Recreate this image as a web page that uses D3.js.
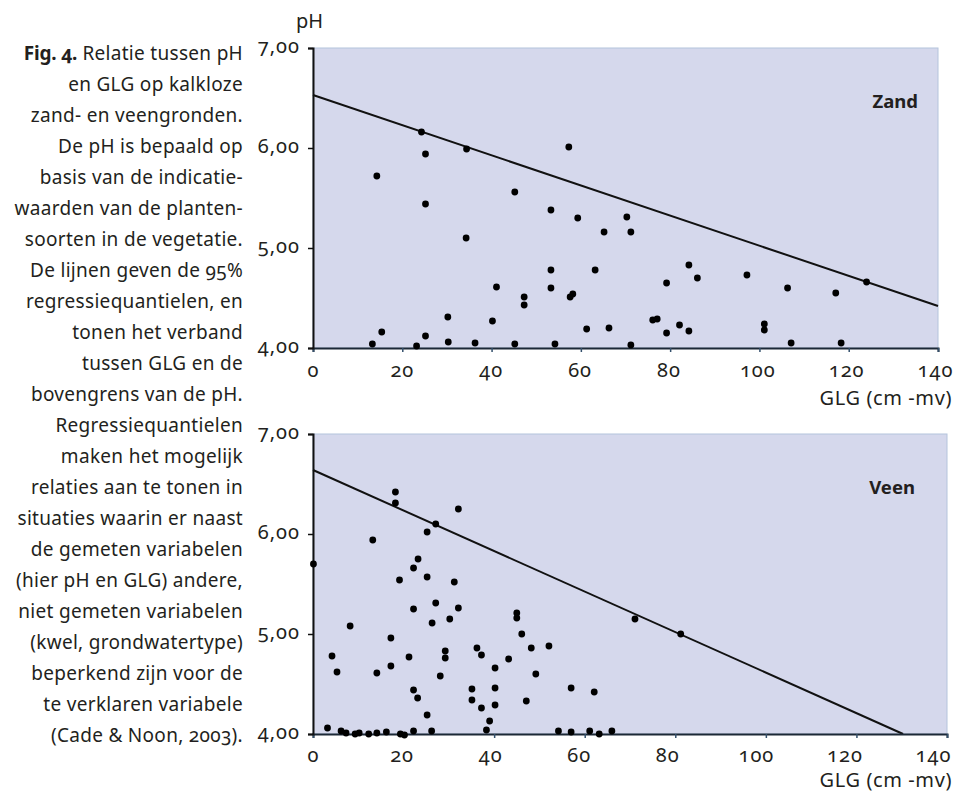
<!DOCTYPE html>
<html>
<head>
<meta charset="utf-8">
<script src="https://cdn.jsdelivr.net/npm/d3@7"></script>
<style>
body { margin: 0; background: #fff; }
svg { display: block; font-family: "Noto Sans", sans-serif; }
.num { font-feature-settings: "onum" 1; font-variant-numeric: oldstyle-nums; }
</style>
</head>
<body>
<svg id="chart" width="956" height="792"></svg>
<script>
// Zand (sand soils): GLG (cm -mv) and pH
let zandGLG = [14.3, 25.2, 24.3, 34.4, 57.3, 25.2, 45.2, 53.3, 59.3, 34.3,
    13.3, 15.4, 23.2, 25.2, 30.3, 30.2, 36.3, 40.2, 41.1, 45.2,
    47.3, 47.3, 53.3, 53.3, 54.2, 57.6, 58.2, 61.3, 63.2, 70.3,
    65.2, 71.2, 66.3, 71.2, 76.1, 77.1, 79.2, 79.2, 82.1, 84.2,
    84.2, 86.1, 97.2, 101.1, 101.1, 106.3, 107.1, 117.1, 118.3, 124.0];
let zandPH = [5.72, 5.94, 6.16, 5.99, 6.01, 5.44, 5.56, 5.38, 5.30, 5.10,
    4.04, 4.16, 4.02, 4.12, 4.06, 4.31, 4.05, 4.27, 4.61, 4.04,
    4.51, 4.43, 4.78, 4.60, 4.04, 4.51, 4.54, 4.19, 4.78, 5.31,
    5.16, 5.16, 4.20, 4.03, 4.28, 4.29, 4.65, 4.15, 4.23, 4.83,
    4.17, 4.70, 4.73, 4.24, 4.18, 4.60, 4.05, 4.55, 4.05, 4.66];
// 95% regression quantile, as [GLG, pH] end points
let zandLine = [[0, 6.53], [140, 4.42]];

// Veen (peat soils)
let veenGLG = [0.1, 13.2, 18.2, 18.2, 25.2, 27.1, 32.1, 23.2, 22.2, 19.1,
    25.2, 31.2, 22.2, 27.1, 32.1, 8.2, 4.2, 5.3, 14.1, 17.2,
    17.2, 21.2, 22.2, 23.1, 25.2, 26.3, 28.1, 29.2, 29.2, 30.2,
    35.1, 35.1, 36.2, 37.2, 37.2, 39.0, 38.3, 40.2, 40.2, 40.2,
    43.2, 45.0, 45.0, 46.1, 48.2, 49.2, 47.1, 52.1, 57.0, 62.1,
    71.1, 81.2, 3.2, 6.2, 7.3, 9.3, 10.2, 12.3, 14.1, 16.2,
    19.3, 20.2, 22.2, 26.2, 54.2, 57.0, 61.1, 63.2, 66.0];
let veenPH = [5.70, 5.94, 6.42, 6.31, 6.02, 6.10, 6.25, 5.75, 5.66, 5.54,
    5.57, 5.52, 5.25, 5.31, 5.26, 5.08, 4.78, 4.62, 4.61, 4.96,
    4.68, 4.77, 4.44, 4.36, 4.19, 5.11, 4.58, 4.83, 4.76, 5.15,
    4.45, 4.34, 4.86, 4.79, 4.26, 4.13, 4.04, 4.66, 4.46, 4.29,
    4.75, 5.21, 5.16, 5.00, 4.86, 4.60, 4.33, 4.88, 4.46, 4.42,
    5.15, 5.00, 4.06, 4.03, 4.01, 4.00, 4.01, 4.00, 4.01, 4.02,
    4.00, 3.99, 4.03, 4.03, 4.03, 4.02, 4.03, 4.00, 4.03];
let veenLine = [[0, 6.64], [130.3, 4.00]];

let xTicks = [0, 20, 40, 60, 80, 100, 120, 140];
let yTicks = [4, 5, 6, 7];
let xTitle = "GLG (cm -mv)";
let yTitle = "pH";

let captionBold = "Fig. 4.";
let captionLines = [
    " Relatie tussen pH",
    "en GLG op kalkloze",
    "zand- en veengronden.",
    "De pH is bepaald op",
    "basis van de indicatie-",
    "waarden van de planten-",
    "soorten in de vegetatie.",
    "De lijnen geven de 95%",
    "regressiequantielen, en",
    "tonen het verband",
    "tussen GLG en de",
    "bovengrens van de pH.",
    "Regressiequantielen",
    "maken het mogelijk",
    "relaties aan te tonen in",
    "situaties waarin er naast",
    "de gemeten variabelen",
    "(hier pH en GLG) andere,",
    "niet gemeten variabelen",
    "(kwel, grondwatertype)",
    "beperkend zijn voor de",
    "te verklaren variabele",
    "(Cade & Noon, 2003)."
];

let svg = d3.select("#chart");

function drawCaption() {
    let g = svg.append("g")
        .attr("fill", "#231f20")
        .attr("font-size", 19)
        .attr("letter-spacing", 0.3)
        .attr("text-anchor", "end");
    captionLines.forEach(function(line, i) {
        let t = g.append("text")
            .attr("class", "num")
            .attr("x", 243)
            .attr("y", 60 + i * 31);
        if (i == 0) {
            t.append("tspan")
                .attr("font-weight", "bold")
                .attr("letter-spacing", -0.2)
                .text(captionBold);
        }
        t.append("tspan").text(line);
    });
}

function styleTickText(sel) {
    sel.attr("font-size", 20)
        .attr("font-family", "'Noto Sans', sans-serif")
        .attr("letter-spacing", 1)
        .attr("fill", "#231f20")
        .style("font-feature-settings", '"onum" 1')
        .style("font-variant-numeric", "oldstyle-nums");
}

function drawPanel(p) {
    let x = d3.scaleLinear().domain([0, 140]).range([p.left, p.right]);
    // tick labels sit slightly off the tick marks in the original
    let xLabel = d3.scaleLinear().domain([0, 140]).range([p.left, p.labelRight]);
    let y = d3.scaleLinear().domain([4, 7]).range([p.bottom, p.top]);
    let g = svg.append("g");

    // plot area
    g.append("rect")
        .attr("x", x(0))
        .attr("y", y(7))
        .attr("width", x(140) - x(0))
        .attr("height", y(4) - y(7))
        .attr("fill", "#d5d8ec")
        .attr("stroke", "#b4c4dc")
        .attr("stroke-width", 1);

    // regression quantile
    let line = d3.line()
        .x(d => x(d[0]))
        .y(d => y(d[1]));
    g.append("path")
        .datum(p.line)
        .attr("d", line)
        .attr("fill", "none")
        .attr("stroke", "#111")
        .attr("stroke-width", 2);

    // x axis
    let xAxis = g.append("g")
        .attr("transform", "translate(0," + y(4) + ")")
        .call(d3.axisBottom(x).tickValues(xTicks).tickSize(4).tickFormat(d3.format("d")));
    xAxis.select(".domain").attr("stroke", "#1c2836").attr("stroke-width", 2);
    xAxis.selectAll(".tick line").attr("stroke", "#33506c").attr("stroke-width", 1.5);
    xAxis.selectAll(".tick text")
        .attr("x", d => xLabel(d) - x(d))
        .attr("y", p.tickLabelY)
        .attr("dy", 0)
        .call(styleTickText);

    // y axis
    let yAxis = g.append("g")
        .attr("transform", "translate(" + x(0) + ",0)")
        .call(d3.axisLeft(y).tickValues(yTicks).tickSize(5).tickPadding(8)
            .tickFormat(d => d3.format(".2f")(d).replace(".", ",")));
    yAxis.select(".domain").attr("stroke", "#111").attr("stroke-width", 2);
    yAxis.selectAll(".tick line").attr("stroke", "#111").attr("stroke-width", 1.5);
    yAxis.selectAll(".tick text")
        .attr("dy", "0.2em")
        .call(styleTickText);

    // points
    g.selectAll("circle")
      .data(d3.range(p.glg.length))
      .join("circle")
        .attr("cx", i => x(p.glg[i]))
        .attr("cy", i => y(p.ph[i]))
        .attr("r", 3.4)
        .attr("fill", "#000");

    // axis titles
    g.append("text")
        .attr("x", 952)
        .attr("y", y(4) + p.titleY)
        .attr("text-anchor", "end")
        .attr("font-size", 20)
        .attr("letter-spacing", 0.6)
        .attr("fill", "#231f20")
        .text(xTitle);
    if (p.showY) {
        g.append("text")
            .attr("x", 296)
            .attr("y", 28)
            .attr("font-size", 20)
            .attr("fill", "#231f20")
            .text(yTitle);
    }

    // panel label
    g.append("text")
        .attr("x", p.labelX)
        .attr("y", y(7) + 60)
        .attr("text-anchor", "end")
        .attr("font-size", 18.5)
        .attr("font-weight", "bold")
        .attr("fill", "#231f20")
        .text(p.label);
}

drawCaption();
drawPanel({ label: "Zand", glg: zandGLG, ph: zandPH, line: zandLine,
    left: 313, right: 938, top: 48, bottom: 348, labelRight: 935,
    tickLabelY: 29, titleY: 57, labelX: 918, showY: true });
drawPanel({ label: "Veen", glg: veenGLG, ph: veenPH, line: veenLine,
    left: 313, right: 947, top: 434, bottom: 734, labelRight: 933,
    tickLabelY: 28, titleY: 53, labelX: 915, showY: false });
</script>
</body>
</html>
